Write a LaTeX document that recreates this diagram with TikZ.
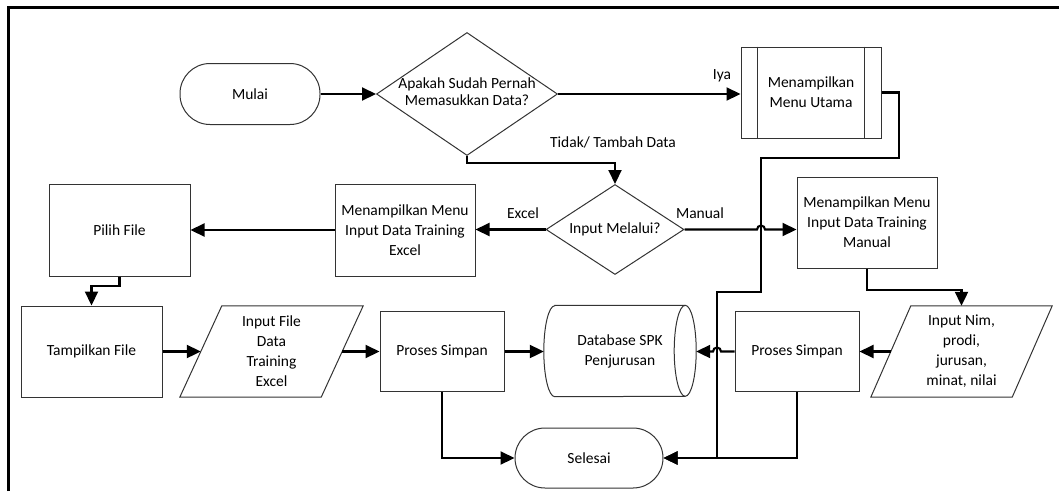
\documentclass[tikz,border=0pt]{standalone}
\usepackage{fontspec}
\setmainfont{Carlito}
\usetikzlibrary{shapes.geometric,arrows.meta,calc}
\begin{document}
\begin{tikzpicture}[x=1pt,y=1pt,
  font=\fontsize{15.5}{20}\selectfont,
  shapeline/.style={draw=black!80, line width=1pt},
  box/.style={shapeline, fill=white, align=center, inner sep=2pt},
  term/.style={box, rounded corners=30pt},
  dec/.style={diamond, shapeline, fill=white, inner sep=0pt},
  txt/.style={align=center, inner sep=0pt},
  conn/.style={line width=2.1pt, -{Triangle[length=14pt,width=13pt]}},
  lab/.style={inner sep=0pt}]
\useasboundingbox (0,0) rectangle (1059,-491);

% open frame (top and left edges)
\draw[line width=3pt] (8.8,-491) -- (8.8,-7.5) -- (1059,-7.5);

% ---- shapes ----
\node[term, minimum width=140pt, minimum height=61pt] (mulai) at (250,-94) {Mulai};
\node[dec, minimum width=181pt, minimum height=123pt] (d1) at (467,-94)
  {\makebox[0pt]{\fontsize{15.5}{17}\selectfont\begin{tabular}{@{}c@{}}Apakah Sudah Pernah\\Memasukkan Data?\end{tabular}}};
\node[box, minimum width=140pt, minimum height=91pt] (mu) at (811,-92.5) {Menampilkan\\Menu Utama};
\draw[shapeline] ([xshift=17pt]mu.north west) -- ([xshift=17pt]mu.south west);
\draw[shapeline] ([xshift=-17pt]mu.north east) -- ([xshift=-17pt]mu.south east);

\node[dec, minimum width=138pt, minimum height=90pt] (d2) at (615,-229.5) {\makebox[0pt]{Input Melalui?}};
\node[box, minimum width=140pt, minimum height=92pt] (xl) at (405,-230) {Menampilkan Menu\\Input Data Training\\Excel};
\node[box, minimum width=141pt, minimum height=92pt] (pf) at (119.5,-230) {Pilih File};
\node[box, minimum width=140pt, minimum height=91pt] (mb) at (867,-222.5) {Menampilkan Menu\\Input Data Training\\Manual};

\node[box, minimum width=141pt, minimum height=91pt] (tf) at (91.5,-351.5) {Tampilkan File};
\node[txt, minimum width=141pt, minimum height=91pt] (p1) at (271.5,-351.5) {Input File\\Data\\Training\\Excel};
\draw[shapeline] ([xshift=21pt]p1.north west) -- ([xshift=21pt]p1.north east)
  -- ([xshift=-21pt]p1.south east) -- ([xshift=-21pt]p1.south west) -- cycle;
\node[box, minimum width=124pt, minimum height=80pt] (ps1) at (442,-351.5) {Proses Simpan};

% database (horizontal cylinder)
\node[txt, minimum width=130pt, minimum height=91pt] (db) at (620,-351) {Database SPK\\Penjurusan};
\draw[shapeline] (db.north west) -- (db.north east)
  arc[start angle=90, end angle=-90, x radius=11pt, y radius=45.5pt]
  -- (db.south west)
  arc[start angle=270, end angle=90, x radius=11pt, y radius=45.5pt] -- cycle;
\draw[shapeline] (db.north east) arc[start angle=90, end angle=270, x radius=11pt, y radius=45.5pt];

\node[box, minimum width=124pt, minimum height=80pt] (ps2) at (797,-351.5) {Proses Simpan};
\node[txt, minimum width=141pt, minimum height=91pt] (p2) at (961.5,-351.5) {Input Nim,\\prodi,\\jurusan,\\minat, nilai};
\draw[shapeline] ([xshift=20pt]p2.north west) -- ([xshift=20pt]p2.north east)
  -- ([xshift=-20pt]p2.south east) -- ([xshift=-20pt]p2.south west) -- cycle;

\node[term, minimum width=148pt, minimum height=60pt] (sl) at (589,-458) {Selesai};

% ---- routing points ----
\coordinate (j1) at (615,-163);
\coordinate (m1) at (899,-158);
\coordinate (m2) at (761,-292);
\coordinate (m3) at (717,-458);
\coordinate (k1) at (0,-286);
\coordinate (k2) at (0,-290);

% ---- connectors ----
\draw[conn] (mulai.east) -- (d1.west);
\draw[conn] (d1.east) -- (mu.west |- d1.east);
\draw[conn] (d1.south) |- (j1) -- (d2.north);
\draw[conn] (d2.west) -- (xl.east |- d2.west);
\draw[conn] (d2.east) -- ($(m2 |- d2.east)+(-4,0)$)
  arc[start angle=180, end angle=0, radius=4pt] -- (mb.west |- d2.east);
\draw[conn] (xl.west) -- (pf.east);
\draw[conn] (pf.south) -- (pf.south |- k1) -| (tf.north);
\draw[conn] (tf.east) -- (p1.west);
\draw[conn] (p1.east) -- (ps1.west);
\draw[conn] (ps1.east) -- ($(db.west |- ps1.east)+(-11,0)$);
\draw[conn] (ps1.south) |- (sl.west);
\draw[conn] (mu.east) -| (m1) -| (m2) -| (m3) -- (sl.east);
\draw[conn] (ps2.south) |- (sl.east);
\draw[conn] (ps2.west) -- ($(m3 |- ps2.west)+(4,0)$)
  arc[start angle=0, end angle=180, radius=4pt] -- ($(db.east |- ps2.west)+(11,0)$);
\draw[conn] (mb.south) -- (mb.south |- k2) -| (p2.north);
\draw[conn] (p2.west) -- (ps2.east);

% ---- labels ----
\node[lab] (lIya) at (722,-76) {Iya};
\node[lab] (lTidak) at (613,-142) {Tidak/ Tambah Data};
\node[lab] (lExcel) at (523,-213) {Excel};
\node[lab] (lManual) at (700,-213) {Manual};
\end{tikzpicture}
\end{document}
